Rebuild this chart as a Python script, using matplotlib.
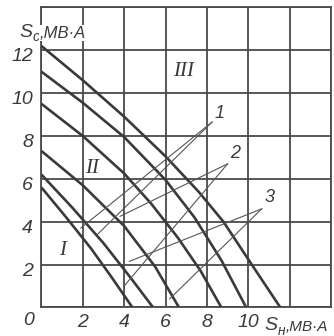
import matplotlib
matplotlib.use('Agg')
import matplotlib.pyplot as plt

# кривые S_с = f(S_н), МВ·А (сверху вниз)
c1_x = [0, 2, 4, 6, 7.6, 8.8, 10.1, 11.55]
c1_y = [12.2, 10.6, 8.9, 7.05, 5.4, 4.0, 2.1, 0]
c2_x = [0, 2, 4, 6, 7.4, 8.7, 9.9]
c2_y = [11.0, 9.55, 7.95, 5.95, 4.2, 2.2, 0]
c3_x = [0, 2, 4, 5.3, 6.6, 7.7, 8.7]
c3_y = [9.5, 8.0, 6.25, 4.85, 3.25, 1.7, 0]
c4_x = [0, 2, 4, 5.5, 6.65]
c4_y = [7.3, 5.7, 3.8, 1.9, 0]
c5_x = [0, 1.5, 3, 4.3, 5.4]
c5_y = [6.2, 4.65, 3.0, 1.4, 0]
c6_x = [0, 1.2, 2.4, 3.4, 4.4]
c6_y = [5.6, 4.2, 2.75, 1.4, 0]
curves = [(c1_x, c1_y), (c2_x, c2_y), (c3_x, c3_y),
          (c4_x, c4_y), (c5_x, c5_y), (c6_x, c6_y)]

x_ticks = [2, 4, 6, 8, 10]
y_ticks = [2, 4, 6, 8, 10, 12]

# области I, II, III
zone_names = ['I', 'II', 'III']
zone_x = [1.0, 2.45, 6.85]
zone_y = [2.65, 6.5, 11.0]

# выноски 1, 2, 3: начало у цифры и два конца на кривых
lead_names = ['1', '2', '3']
lead_text_x = [8.6, 9.35, 11.05]
lead_text_y = [9.05, 7.2, 5.15]
lead_start_x = [8.25, 9.0, 10.65]
lead_start_y = [8.65, 6.7, 4.6]
lead_end1_x = [1.9, 3.8, 4.25]
lead_end1_y = [3.7, 4.25, 2.15]
lead_end2_x = [2.7, 4.0, 6.2]
lead_end2_y = [3.4, 1.0, 0.4]

INK = '#3a3a3a'
SANS = ['Liberation Sans Narrow', 'Liberation Sans']
SERIF = ['Liberation Serif', 'DejaVu Serif']

fig = plt.figure(figsize=(3.34, 3.36), dpi=100)
ax = fig.add_axes([0.124, 0.085, 0.867, 0.893])
ax.set_xlim(0, 14)
ax.set_ylim(0, 14)
ax.set_xticks(range(0, 15, 2))
ax.set_yticks(range(0, 15, 2))
ax.tick_params(length=0, labelbottom=False, labelleft=False)
ax.grid(True, color='#4a4a4a', lw=1.3)
for sp in ax.spines.values():
    sp.set_color('#4a4a4a')
    sp.set_linewidth(1.3)

for cx, cy in curves:
    ax.plot(cx, cy, color=INK, lw=1.9, solid_capstyle='butt',
            solid_joinstyle='round', zorder=3)

for i in range(3):
    for ex, ey in [(lead_end1_x[i], lead_end1_y[i]), (lead_end2_x[i], lead_end2_y[i])]:
        ax.plot([lead_start_x[i], ex], [lead_start_y[i], ey], color='#555555', lw=0.8, zorder=3)
    ax.text(lead_text_x[i], lead_text_y[i], lead_names[i], fontsize=13, style='italic',
            family=SANS, color=INK, ha='center', va='center')

for name, zx, zy in zip(zone_names, zone_x, zone_y):
    ax.text(zx, zy, name, fontsize=15, style='italic', family=SERIF, color=INK,
            ha='center', va='center')

# подписи делений
for v in x_ticks:
    ax.text(v, -0.68, str(v), fontsize=14, style='italic', family=SANS, color=INK,
            ha='center', va='center', clip_on=False)
for v in y_ticks:
    ax.text(-0.4, v - 0.3, str(v), fontsize=14, style='italic', family=SANS, color=INK,
            ha='right', va='center', clip_on=False)
ax.text(-0.6, -0.63, '0', fontsize=14, style='italic', family=SANS, color=INK,
        ha='center', va='center', clip_on=False)


def axis_label(x, y, sub, size=12):
    s = ax.text(x, y, 'S', fontsize=14, style='italic', family=SANS, color=INK,
                ha='left', va='bottom', clip_on=False)
    t = ax.annotate(sub, xy=(1, 0), xycoords=s, xytext=(0, -2.5), textcoords='offset points',
                    fontsize=10, style='italic', family=SANS, color=INK,
                    ha='left', va='bottom', annotation_clip=False)
    ax.annotate(',МВ·А', xy=(1, 0), xycoords=(t, s), fontsize=size, style='italic',
                family=SANS, color=INK, ha='left', va='bottom', annotation_clip=False,
                bbox=dict(boxstyle='square,pad=0.05', fc='white', ec='none'))


axis_label(-1.05, 12.45, 'с')
axis_label(10.8, -1.25, 'н', size=11)

plt.savefig('out.png', dpi=100)
plt.close()
